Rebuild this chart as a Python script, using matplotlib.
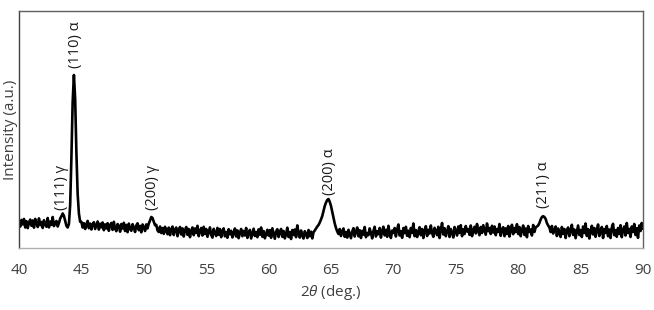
import numpy as np
import matplotlib
matplotlib.use("Agg")
import matplotlib.pyplot as plt

plt.rcParams["font.family"] = ["Open Sans", "DejaVu Sans"]
plt.rcParams["mathtext.fontset"] = "custom"
plt.rcParams["mathtext.rm"] = "Open Sans"
plt.rcParams["mathtext.it"] = "Open Sans:italic"

# scan: 40.0 .. 90.0 deg in 0.1 deg steps, one row per degree
two_theta_start = 40.0
two_theta_step = 0.1
intensity = [
    262, 214, 281, 236, 290, 205, 268, 199, 255, 284,   # 40
    222, 275, 203, 291, 248, 210, 296, 228, 260, 200,   # 41
    278, 235, 212, 300, 206, 264, 231, 310, 219, 252,   # 42
    270, 215, 250, 295, 318, 345, 322, 270, 222, 205,   # 43
    240, 430, 910, 1460, 1730, 1490, 950, 540, 345, 262,  # 44
    262, 205, 248, 190, 236, 271, 198, 244, 185, 238,   # 45
    258, 190, 226, 265, 184, 243, 207, 255, 178, 236,   # 46
    196, 248, 172, 230, 251, 181, 262, 193, 168, 240,   # 47
    222, 163, 240, 195, 252, 170, 231, 158, 244, 190,   # 48
    172, 238, 205, 160, 226, 247, 178, 221, 157, 235,   # 49
    210, 170, 236, 196, 245, 275, 310, 300, 262, 228,   # 50
    232, 176, 160, 215, 150, 199, 142, 212, 170, 138,   # 51
    204, 128, 186, 214, 130, 182, 205, 118, 175, 210,   # 52
    135, 196, 115, 180, 210, 132, 190, 108, 172, 205,   # 53
    128, 195, 150, 222, 118, 170, 200, 125, 212, 140,   # 54
    190, 112, 158, 206, 131, 104, 192, 150, 120, 201,   # 55
    133, 190, 108, 168, 196, 117, 160, 102, 188, 137,   # 56
    172, 106, 147, 195, 115, 176, 98, 150, 190, 118,    # 57
    170, 125, 200, 101, 152, 181, 95, 146, 193, 120,    # 58
    160, 108, 186, 133, 205, 112, 170, 97, 140, 182,    # 59
    124, 178, 102, 197, 145, 92, 165, 188, 110, 158,    # 60
    190, 112, 170, 96, 140, 203, 110, 160, 90, 180,     # 61
    130, 185, 108, 226, 150, 104, 175, 126, 95, 168,    # 62
    140, 100, 180, 118, 163, 96, 158, 175, 195, 215,    # 63
    230, 255, 285, 320, 370, 420, 455, 480, 490, 462,   # 64
    420, 360, 300, 245, 200, 165, 140, 190, 120, 168,   # 65
    195, 112, 160, 104, 182, 140, 98, 166, 198, 115,    # 66
    165, 205, 117, 178, 100, 172, 133, 210, 108, 150,   # 67
    128, 196, 150, 96, 170, 212, 115, 168, 138, 200,    # 68
    104, 170, 213, 126, 182, 112, 222, 148, 100, 175,   # 69
    150, 200, 115, 185, 235, 125, 168, 102, 200, 148,   # 70
    212, 122, 172, 108, 200, 150, 245, 118, 180, 110,   # 71
    165, 208, 128, 190, 100, 172, 218, 120, 182, 145,   # 72
    225, 150, 112, 202, 170, 128, 212, 100, 185, 250,   # 73
    135, 198, 118, 165, 218, 110, 190, 150, 105, 210,   # 74
    172, 125, 215, 150, 228, 118, 188, 140, 220, 165,   # 75
    190, 132, 225, 118, 178, 212, 146, 240, 170, 128,   # 76
    210, 150, 228, 182, 133, 245, 168, 200, 140, 222,   # 77
    155, 215, 128, 190, 160, 240, 122, 185, 208, 118,   # 78
    196, 140, 220, 115, 178, 232, 138, 200, 160, 238,   # 79
    140, 210, 118, 180, 225, 130, 195, 108, 220, 160,   # 80
    185, 125, 230, 160, 205, 215, 225, 250, 285, 310,   # 81
    318, 310, 290, 250, 225, 205, 160, 220, 145, 178,   # 82
    215, 120, 195, 150, 110, 210, 140, 190, 100, 178,   # 83
    205, 118, 172, 232, 130, 185, 98, 160, 225, 130,    # 84
    180, 110, 215, 150, 245, 120, 188, 95, 168, 222,    # 85
    135, 200, 112, 178, 235, 120, 160, 210, 100, 190,   # 86
    150, 220, 118, 185, 100, 205, 242, 128, 178, 112,   # 87
    200, 140, 228, 108, 182, 215, 125, 250, 150, 190,   # 88
    110, 215, 160, 240, 130, 198, 102, 225, 170, 250,   # 89
    195,                                                # 90
]

peak_labels = ["(111) γ", "(110) α", "(200) γ", "(200) α", "(211) α"]
peak_label_x = [43.4, 44.5, 50.7, 64.9, 82.0]
peak_label_y = [380, 1800, 380, 530, 400]

x_ticks = [40, 45, 50, 55, 60, 65, 70, 75, 80, 85, 90]

two_theta = two_theta_start + two_theta_step * np.arange(len(intensity))

fig = plt.figure(figsize=(6.54, 3.10), dpi=100)
ax = fig.add_axes([19 / 654, 62 / 310, 624 / 654, 237 / 310])

ax.plot(two_theta, intensity, color="black", lw=1.9)

for lab, px, py in zip(peak_labels, peak_label_x, peak_label_y):
    ax.text(px, py, lab, rotation=90, ha="center", va="bottom",
            fontsize=10.5, color="#1a1a1a")

ax.set_xlim(40, 90)
ax.set_ylim(0, 2370)
ax.set_xticks(x_ticks)
ax.set_yticks([])
ax.tick_params(axis="x", length=0, pad=11, labelsize=11, labelcolor="#404040")

ax.set_xlabel("$2\\theta$ (deg.)", fontsize=11, color="#404040")
ax.xaxis.set_label_coords(0.5, -0.186)
ax.xaxis.label.set_va("center")
ax.set_ylabel("Intensity (a.u.)", fontsize=11, color="#404040")
ax.yaxis.set_label_coords(-0.0144, 0.5)
ax.yaxis.label.set_va("center")

ax.spines["left"].set_color("#404040")
ax.spines["bottom"].set_color("#b0b0b0")
ax.spines["top"].set_color("#606060")
ax.spines["right"].set_color("#606060")
for s in ax.spines.values():
    s.set_linewidth(1.0)

fig.savefig("out.png", dpi=100)
